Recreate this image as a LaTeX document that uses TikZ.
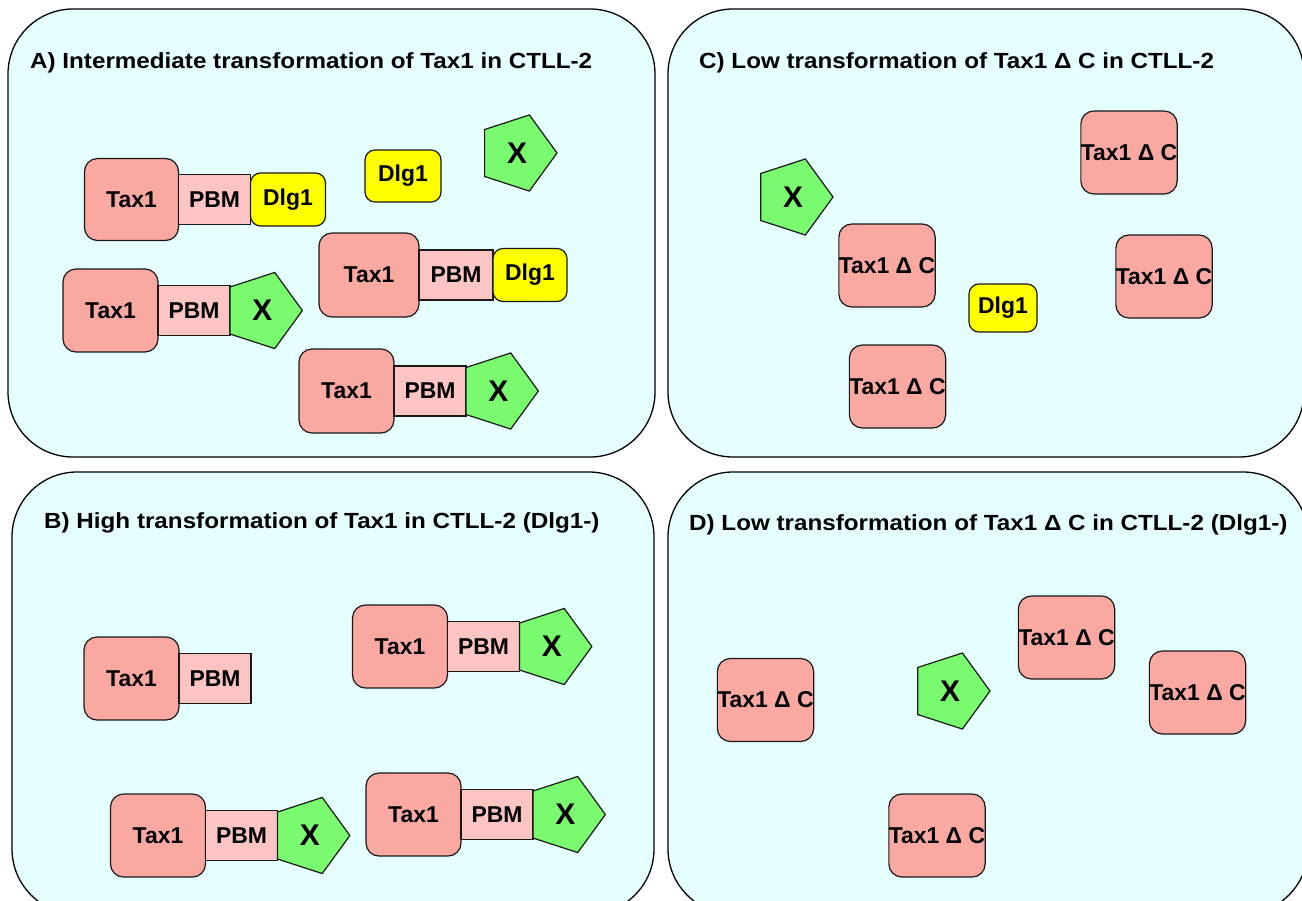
\documentclass[tikz,border=0pt]{standalone}
\usepackage{fontspec}
\setmainfont{Liberation Sans}
\newfontfamily\ttlfont[FakeStretch=1.105]{Liberation Sans}
\usetikzlibrary{shapes.geometric}
\definecolor{panelbg}{RGB}{229,255,255}
\definecolor{taxc}{RGB}{249,169,162}
\definecolor{pbmc}{RGB}{252,196,194}
\definecolor{dlgc}{RGB}{255,255,0}
\definecolor{xc}{RGB}{122,250,110}
\definecolor{edgec}{RGB}{25,25,25}
\tikzset{
  panel/.style={draw=black, line width=1.3bp, fill=panelbg, rounded corners=65bp},
  ttl/.style={anchor=base west, inner sep=0, font=\ttlfont\fontsize{22}{26}\selectfont\bfseries},
  lbl/.style={inner sep=0, outer sep=0, draw=edgec, line width=1.2bp, font=\fontsize{23}{27}\selectfont\bfseries},
  taxbox/.style={lbl, fill=taxc, rounded corners=13bp, minimum width=95bp, minimum height=83bp},
  pbmbox/.style={lbl, fill=pbmc, minimum width=72bp, minimum height=50bp, anchor=west},
  dlgbox/.style={lbl, fill=dlgc, rounded corners=10bp, minimum width=75bp, minimum height=53bp},
  xpent/.style={lbl, fill=xc, regular polygon, regular polygon sides=5, shape border rotate=-90,
    minimum size=80bp, font=\fontsize{30}{34}\selectfont\bfseries},
}
\begin{document}
\begin{tikzpicture}[x=1bp, y=-1bp]
\useasboundingbox (0,0) rectangle (1302,900);
\clip (0,0) rectangle (1302,900);
% panels
\draw[panel] (8,9) rectangle (655,457);
\draw[panel] (668,9) rectangle (1304,457);
\draw[panel] (12,472) rectangle (654,914);
\draw[panel] (668,472) rectangle (1308,914);
% titles
\node[ttl] (tA) at (30,68) {A) Intermediate transformation of Tax1 in CTLL-2};
\node[ttl] (tB) at (44,528) {B) High transformation of Tax1 in CTLL-2 (Dlg1-)};
\node[ttl] (tC) at (699,68) {C) Low transformation of Tax1 Δ C in CTLL-2};
\node[ttl] (tD) at (689,530) {D) Low transformation of Tax1 Δ C in CTLL-2 (Dlg1-)};
% ---- Panel A
\node[taxbox, minimum width=94bp, minimum height=82bp] (a1t) at (131.5,199.5) {Tax1};
\node[pbmbox] (a1p) at (a1t.east) {PBM};
\node[dlgbox, anchor=west] (a1d) at (a1p.east) {Dlg1};
\node[dlgbox, minimum width=76bp, minimum height=52bp] (afd) at (403,176) {Dlg1};
\node[xpent] (afx) at (517,153) {X};
\node[taxbox, minimum width=100bp, minimum height=84bp] (a2t) at (369,275) {Tax1};
\node[pbmbox, minimum width=74bp] (a2p) at (a2t.east) {PBM};
\node[dlgbox, anchor=west, minimum width=74bp] (a2d) at (a2p.east) {Dlg1};
\node[taxbox] (a3t) at (110.5,310.5) {Tax1};
\node[pbmbox] (a3p) at (a3t.east) {PBM};
\node[xpent, anchor=west] (a3x) at (a3p.east) {X};
\node[taxbox, minimum height=84bp] (a4t) at (346.5,391) {Tax1};
\node[pbmbox] (a4p) at (a4t.east) {PBM};
\node[xpent, anchor=west] (a4x) at (a4p.east) {X};
% ---- Panel B
\node[taxbox] (b1t) at (131.5,678.5) {Tax1};
\node[pbmbox] (b1p) at (b1t.east) {PBM};
\node[taxbox] (b2t) at (400,646.5) {Tax1};
\node[pbmbox] (b2p) at (b2t.east) {PBM};
\node[xpent, anchor=west] (b2x) at (b2p.east) {X};
\node[taxbox] (b3t) at (158,835.5) {Tax1};
\node[pbmbox] (b3p) at (b3t.east) {PBM};
\node[xpent, anchor=west] (b3x) at (b3p.east) {X};
\node[taxbox] (b4t) at (413.5,814.5) {Tax1};
\node[pbmbox] (b4p) at (b4t.east) {PBM};
\node[xpent, anchor=west] (b4x) at (b4p.east) {X};
% ---- Panel C
\node[taxbox] (c1) at (1129,152.5) {Tax1 Δ C};
\node[taxbox] (c2) at (887,265.5) {Tax1 Δ C};
\node[taxbox] (c3) at (1164,276.5) {Tax1 Δ C};
\node[taxbox] (c4) at (897.5,386.5) {Tax1 Δ C};
\node[xpent] (cx) at (793,197) {X};
\node[dlgbox, minimum width=68bp, minimum height=48bp] (cd) at (1003,308) {Dlg1};
% ---- Panel D
\node[taxbox] (d1) at (765.5,700) {Tax1 Δ C};
\node[taxbox] (d2) at (1066.5,637.5) {Tax1 Δ C};
\node[taxbox] (d3) at (1197.5,692.5) {Tax1 Δ C};
\node[taxbox] (d4) at (937,835.5) {Tax1 Δ C};
\node[xpent] (dx) at (950,691) {X};
\end{tikzpicture}
\end{document}
